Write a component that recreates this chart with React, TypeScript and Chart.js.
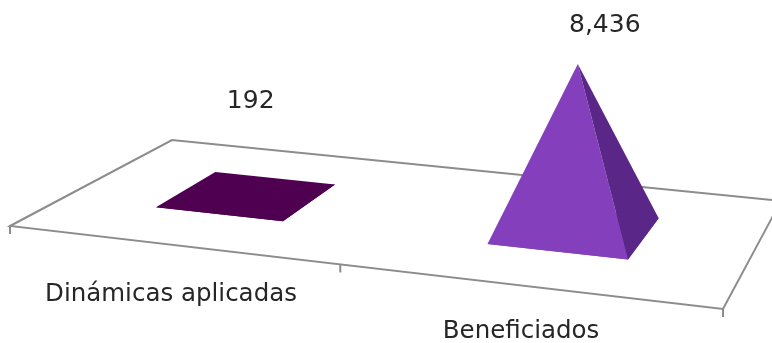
import React, { useEffect, useRef } from "react";
import { Chart, registerables } from "chart.js";

Chart.register(...registerables);

const categories = ["Dinámicas aplicadas", "Beneficiados"];
const values = [192, 8436];
const valueLabels = ["192", "8,436"];
const frontColors = ["#4f0050", "#8440bc"];
const sideColors = ["#4f0050", "#5a2788"];

type P = [number, number];
const FL: P = [10, 226];
const FR: P = [723, 309];
const BR: P = [781, 201];
const BL: P = [172, 140];
const DEPTH = 0.4;
const CENTER_V = 0.5;
const U_SHIFT = -0.004;
const APEX_LEAN = 0.015;
const MID_TICK_U = 0.49;
const LABEL_OFFSETS: P[] = [[3, -90], [27, -38]];
const CATEGORY_POS: P[] = [[171, 295], [521, 332]];
const FONT = '"DejaVu Sans"';

function homography(p0: P, p1: P, p2: P, p3: P) {
  const dx1 = p1[0] - p2[0], dx2 = p3[0] - p2[0], dx3 = p0[0] - p1[0] + p2[0] - p3[0];
  const dy1 = p1[1] - p2[1], dy2 = p3[1] - p2[1], dy3 = p0[1] - p1[1] + p2[1] - p3[1];
  const den = dx1 * dy2 - dx2 * dy1;
  const g = (dx3 * dy2 - dx2 * dy3) / den;
  const h = (dx1 * dy3 - dx3 * dy1) / den;
  const a = p1[0] - p0[0] + g * p1[0], b = p3[0] - p0[0] + h * p3[0], c = p0[0];
  const d = p1[1] - p0[1] + g * p1[1], e = p3[1] - p0[1] + h * p3[1], f = p0[1];
  return (u: number, v: number): P => {
    const w = g * u + h * v + 1;
    return [(a * u + b * v + c) / w, (d * u + e * v + f) / w];
  };
}
const project = homography(FL, FR, BR, BL);

function poly(ctx: CanvasRenderingContext2D, pts: P[], fill: string) {
  ctx.beginPath();
  pts.forEach((p, i) => (i ? ctx.lineTo(p[0], p[1]) : ctx.moveTo(p[0], p[1])));
  ctx.closePath();
  ctx.fillStyle = fill;
  ctx.fill();
}

const pyramidPlugin = {
  id: "pyramid3d",
  afterDatasetsDraw(chart: any) {
    const ctx: CanvasRenderingContext2D = chart.ctx;
    const xs = chart.scales.x;
    const ys = chart.scales.y;
    const toU = (x: number) => (x - xs.left) / (xs.right - xs.left) + U_SHIFT;
    ctx.save();

    // floor
    ctx.strokeStyle = "#8c8c8c";
    ctx.lineWidth = 2;
    ctx.beginPath();
    ctx.moveTo(FL[0], FL[1]);
    ctx.lineTo(BL[0], BL[1]);
    ctx.lineTo(BR[0], BR[1]);
    ctx.lineTo(FR[0], FR[1]);
    ctx.closePath();
    ctx.stroke();
    [0, MID_TICK_U, 1].forEach((u) => {
      const p = project(u, 0);
      ctx.beginPath();
      ctx.moveTo(p[0], p[1]);
      ctx.lineTo(p[0], p[1] + 8);
      ctx.stroke();
    });

    // pyramids
    const y0 = ys.getPixelForValue(0);
    chart.getDatasetMeta(0).data.forEach((el: any, i: number) => {
      const u = toU(el.x);
      const du = el.width / 2 / (xs.right - xs.left);
      const v0 = CENTER_V - DEPTH / 2, v1 = CENTER_V + DEPTH / 2;
      const a = project(u - du, v0);
      const b = project(u + du, v0);
      const c = project(u + du, v1);
      const d = project(u - du, v1);
      const mid = project(u, CENTER_V);
      const h = y0 - el.y;
      const apex: P = [mid[0] + h * APEX_LEAN, mid[1] - h];
      poly(ctx, [a, b, c, d], frontColors[i]);
      poly(ctx, [a, b, apex], frontColors[i]);
      poly(ctx, [b, c, apex], sideColors[i]);

      ctx.fillStyle = "#262626";
      ctx.textAlign = "center";
      ctx.textBaseline = "middle";
      ctx.font = `25px ${FONT}`;
      ctx.fillText(valueLabels[i], apex[0] + LABEL_OFFSETS[i][0], apex[1] + LABEL_OFFSETS[i][1]);
      ctx.font = `24.5px ${FONT}`;
      ctx.fillText(categories[i], CATEGORY_POS[i][0], CATEGORY_POS[i][1]);
    });
    ctx.restore();
  },
};

export default function App() {
  const ref = useRef<HTMLCanvasElement>(null);
  useEffect(() => {
    document.body.style.margin = "0";
    const chart = new Chart(ref.current!, {
      type: "bar",
      data: {
        labels: categories,
        datasets: [{ data: values, backgroundColor: "rgba(0,0,0,0)", barPercentage: 0.395, categoryPercentage: 1 }],
      },
      options: {
        responsive: false,
        animation: false,
        layout: { padding: { left: 10, right: 49, top: 52, bottom: 113 } },
        plugins: { legend: { display: false }, tooltip: { enabled: false } },
        scales: {
          x: { display: false },
          y: { display: false, min: 0, max: 9000 },
        },
      },
      plugins: [pyramidPlugin],
    });
    return () => chart.destroy();
  }, []);
  return <canvas ref={ref} width={772} height={343} style={{ display: "block" }} />;
}
